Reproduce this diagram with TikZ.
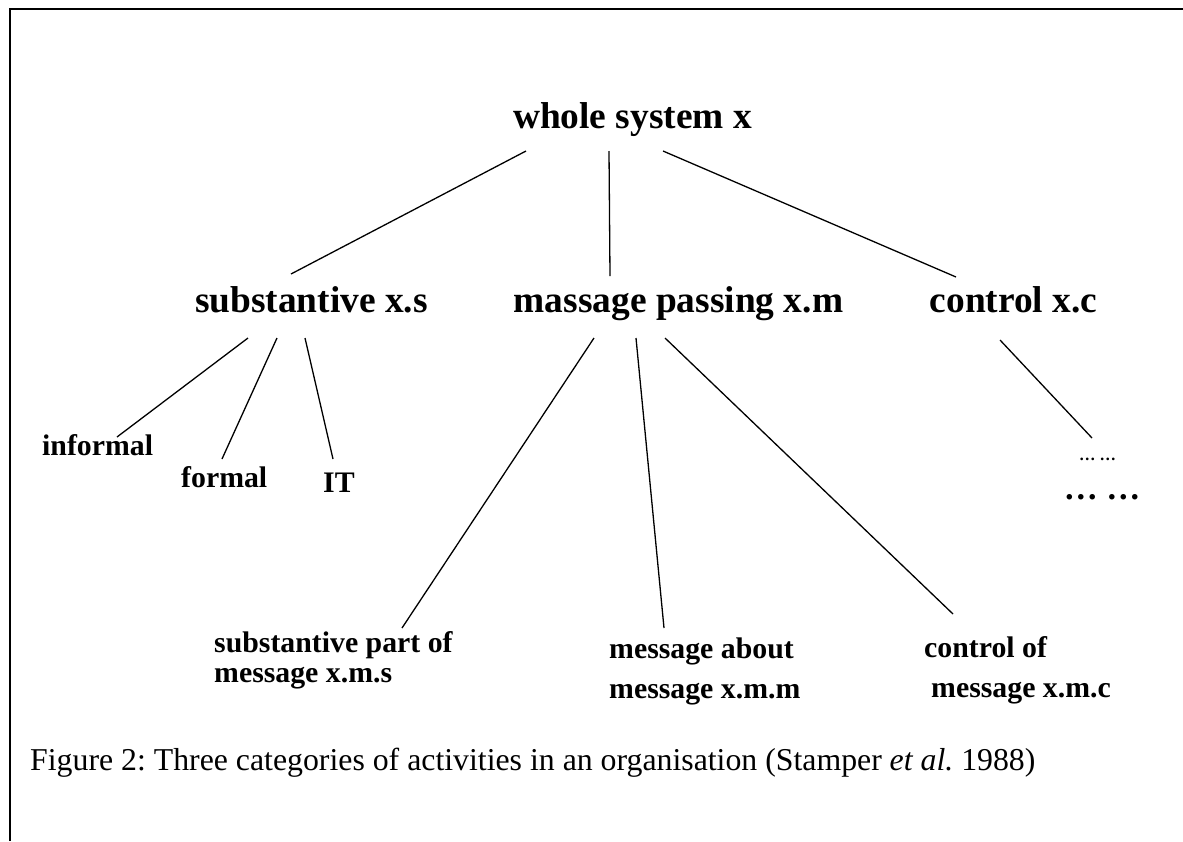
\documentclass[tikz,border=0pt]{standalone}
\usepackage{fontspec}
\setmainfont{Liberation Serif}
\begin{document}
\frenchspacing
\begin{tikzpicture}[x=1pt,y=-1pt,
  big/.style={font=\fontsize{37.4}{44}\selectfont\bfseries, inner sep=0pt, anchor=base},
  mid/.style={font=\fontsize{29.8}{36}\selectfont\bfseries, inner sep=0pt, anchor=base west},
  captext/.style={font=\fontsize{31.8}{38}\selectfont, inner sep=0pt, anchor=base west},
  link/.style={line width=1.3pt}]
\useasboundingbox (0,0) rectangle (1183,841);
\draw[line width=2pt] (10,841) -- (10,9) -- (1183,9);
% level 1 and 2
\node[big] (whole) at (632.5,128) {whole system x};
\node[big] (subs) at (311.5,312) {substantive x.s};
\node[big] (mp) at (678.5,312) {massage passing x.m};
\node[big] (ctrl) at (1013.5,312) {control x.c};
% leaves under substantive
\node[mid] (inf) at (42,455) {informal};
\node[mid] (form) at (181,487) {formal};
\node[mid] (it) at (323,492) {IT};
% leaves under message passing
\node[mid] (sp1) at (214,652) {substantive part of};
\node[mid] (sp2) at (214,682) {message x.m.s};
\node[mid] (ma1) at (609,658) {message about};
\node[mid] (ma2) at (609,698) {message x.m.m};
\node[mid] (co1) at (924,657) {control of};
\node[mid] (co2) at (931,697) {message x.m.c};
% dots under control
\node[font=\fontsize{16.4}{20}\selectfont\bfseries, inner sep=0pt, anchor=base] (d1) at (1097.5,460) {… …};
\node[font=\fontsize{34}{40}\selectfont\bfseries, inner sep=0pt, anchor=base] (d2) at (1102,499) {… …};
% caption
\node[captext] (caption) at (30,770) {Figure 2: Three categories of activities in an organisation (Stamper \textit{et al.} 1988)};
% connector end points
\coordinate (w1) at (526,151);
\coordinate (w2) at (609,151);
\coordinate (w3) at (663,151);
\coordinate (s0) at (291,274);
\coordinate (m0) at (610,276);
\coordinate (c0) at (956,277);
\coordinate (s1) at (248,338);
\coordinate (s2) at (277,338);
\coordinate (s3) at (305,338);
\coordinate (i0) at (117,437);
\coordinate (f0) at (222,459);
\coordinate (t0) at (333,459);
\coordinate (m1) at (594,338);
\coordinate (m2) at (636,338);
\coordinate (m3) at (665,338);
\coordinate (p0) at (402,628);
\coordinate (a0) at (664,628);
\coordinate (o0) at (953,614);
\coordinate (c1) at (1000,340);
\coordinate (e0) at (1092,438);
\draw[link] (w1) -- (s0);
\draw[link] (w2) -- (m0);
\draw[link] (w3) -- (c0);
\draw[link] (s1) -- (i0);
\draw[link] (s2) -- (f0);
\draw[link] (s3) -- (t0);
\draw[link] (m1) -- (p0);
\draw[link] (m2) -- (a0);
\draw[link] (m3) -- (o0);
\draw[link] (c1) -- (e0);
\end{tikzpicture}
\end{document}
